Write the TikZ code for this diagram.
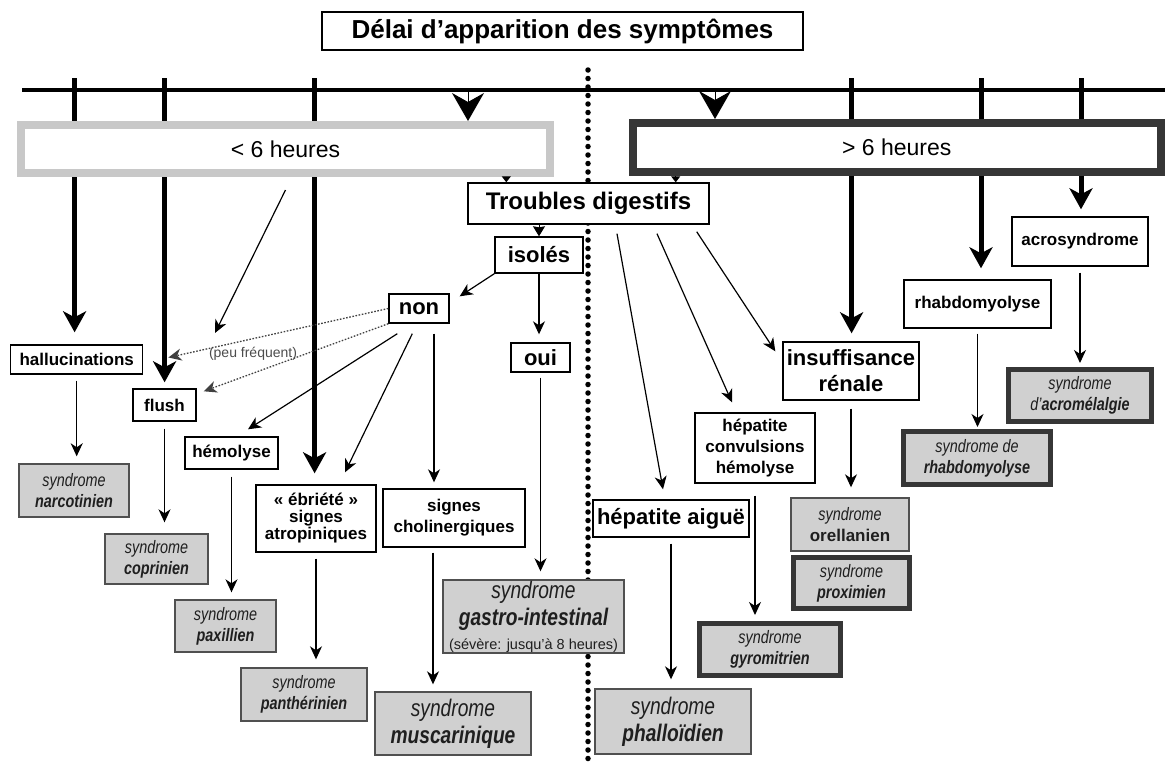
\documentclass[tikz,border=0pt]{standalone}
\usepackage{fontspec}
\setmainfont{Liberation Sans}
\newfontfamily\nar[FakeStretch=0.8]{Liberation Sans}
\usetikzlibrary{arrows.meta}
\pgfdeclarelayer{bg}
\pgfsetlayers{bg,main}
\definecolor{lgray}{HTML}{C8C8C8}
\definecolor{dgray}{HTML}{363636}
\definecolor{sfill}{HTML}{D0D0D0}
\definecolor{sline}{HTML}{505050}
\begin{document}
\begin{tikzpicture}[x=1pt,y=-1pt,
  sz/.style 2 args={minimum width=#1pt, minimum height=#2pt},
  wbox/.style={draw=black, line width=1.4pt, fill=white, inner sep=0pt, align=center, font=\fontsize{17}{21}\selectfont\bfseries},
  big/.style={font=\fontsize{22}{26}\selectfont\bfseries},
  sbox/.style={draw=sline, line width=1.4pt, fill=sfill, inner sep=0pt, align=center, text=black!88, font=\fontsize{18}{21}\selectfont\nar\itshape},
  bigs/.style={font=\fontsize{24}{27}\selectfont\nar\itshape},
  tbox/.style={sbox, draw=dgray, line width=5pt},
  tarr/.style={line width=1.2pt, -{Stealth[length=13pt,width=12pt,inset=4pt]}},
  karr/.style={line width=5pt, -{Stealth[length=21pt,width=23pt,inset=6pt]}},
  dotl/.style={line width=1.3pt, draw=black!75, dash pattern=on 1.6pt off 1.6pt, -{Stealth[length=13pt,width=12pt,inset=4pt]}},
  vhead/.style={line width=1pt, -{Stealth[length=28pt,width=32pt,inset=9pt]}},
  shead/.style={line width=1pt, -{Stealth[length=10pt,width=12pt,inset=1pt]}},
  ]
\useasboundingbox (0,0) rectangle (1165,763);

% title and period boxes
\node[draw, line width=1.4pt, fill=white, inner sep=0pt, sz={481}{38}, font=\fontsize{26}{26}\selectfont\bfseries] (title) at (562.5,31) {Délai d’apparition des symptômes};
\node[draw=lgray, line width=8pt, fill=white, inner sep=0pt, sz={529}{48}, font=\fontsize{23}{23}\selectfont] (lt6) at (285.5,149) {< 6 heures};
\node[draw=dgray, line width=8pt, fill=white, inner sep=0pt, sz={528.5}{49}, font=\fontsize{23}{23}\selectfont] (gt6) at (896.75,147.5) {> 6 heures};

% white boxes
\node[wbox, font=\fontsize{24}{24}\selectfont\bfseries, sz={241}{41}] (trou) at (588.5,203.5) {Troubles digestifs};
\node[wbox, big, sz={88}{36}] (isol) at (539,255) {isolés};
\node[wbox, big, sz={60}{29}] (non) at (419,308.5) {non};
\node[wbox, big, sz={59}{29}] (oui) at (540.5,357.5) {oui};
\node[wbox, sz={132}{29}] (hall) at (76.7,359.5) {hallucinations};
\node[wbox, sz={63}{32}] (flush) at (164.5,405) {flush};
\node[wbox, sz={93}{32}] (hemo) at (231.5,453) {hémolyse};
\node[wbox, font=\fontsize{17}{17}\selectfont\bfseries, sz={120}{67}] (ebri) at (316,518.5) {« ébriété »\\signes\\atropiniques};
\node[wbox, sz={142}{58}] (chol) at (454,518) {signes\\cholinergiques};
\node[wbox, big, sz={156}{37}] (hepa) at (671,518.5) {hépatite aiguë};
\node[wbox, sz={120}{70}] (hepc) at (755,448) {hépatite\\convulsions\\hémolyse};
\node[wbox, big, sz={136}{58}] (insu) at (851,371) {insuffisance\\rénale};
\node[wbox, sz={147}{48}] (rhab) at (977.5,304) {rhabdomyolyse};
\node[wbox, sz={136}{49}] (acro) at (1080,241.5) {acrosyndrome};

% syndrome boxes
\node[sbox, sz={110}{53}] (narc) at (74,490.5) {syndrome\\\bfseries narcotinien};
\node[sbox, sz={103}{50}] (copr) at (156.5,559) {syndrome\\\bfseries coprinien};
\node[sbox, sz={101}{52}] (paxi) at (225.5,626) {syndrome\\\bfseries paxillien};
\node[sbox, sz={126}{53}] (pant) at (304,694.5) {syndrome\\\bfseries panthérinien};
\node[sbox, bigs, sz={156}{63}] (musc) at (453,723.5) {syndrome\\\bfseries muscarinique};
\node[sbox, bigs, sz={181}{73}] (gast) at (533.5,616.5) {syndrome\\\bfseries gastro-intestinal\\[-3pt]{\normalfont\fontsize{14.5}{15}\selectfont (sévère: jusqu’à 8 heures)}};
\node[sbox, sz={118}{53}] (orel) at (850,524.5) {syndrome\\\normalfont\fontsize{17}{21}\selectfont\bfseries orellanien};
\node[tbox, sz={116}{51}] (prox) at (851.5,583) {syndrome\\\bfseries proximien};
\node[tbox, sz={141}{52}] (gyro) at (770,649.5) {syndrome\\\bfseries gyromitrien};
\node[sbox, bigs, sz={156}{65}] (phal) at (673,721.5) {syndrome\\\bfseries phalloïdien};
\node[tbox, sz={147}{53}] (syrh) at (977,458) {syndrome de\\\bfseries rhabdomyolyse};
\node[tbox, sz={143}{52}] (acrm) at (1080,395.5) {syndrome\\d’\textbf{acromélalgie}};

\node[inner sep=0pt, text=black!70, font=\fontsize{14}{14}\selectfont] (pfq) at (253,354) {(peu fréquent)};

% background: timeline, divider, thick arrows
\begin{pgfonlayer}{bg}
\coordinate (tl0) at (22,90);
\coordinate (tl1) at (1165,90);
\draw[line width=4pt] (tl0) -- (tl1);
\coordinate (dv0) at (588,70);
\coordinate (dv1) at (588,765);
\draw[line width=5.5pt, line cap=round, dash pattern=on 0pt off 8.5pt] (dv0) -- (dv1);
\coordinate (k1) at (74.6,78);
\coordinate (k2) at (164.6,78);
\coordinate (k3) at (314.6,78);
\coordinate (k4) at (851.6,78);
\coordinate (k5) at (981,78);
\coordinate (k6) at (1081,78);
\draw[karr, shorten >=12pt] (k1) -- (k1 |- hall.north);
\draw[karr, shorten >=6pt] (k2) -- (k2 |- flush.north);
\draw[karr, shorten >=11pt] (k3) -- (k3 |- ebri.north);
\draw[karr, shorten >=8pt] (k4) -- (k4 |- insu.north);
\draw[karr, shorten >=11pt] (k5) -- (k5 |- rhab.north);
\draw[karr, shorten >=7pt] (k6) -- (k6 |- acro.north);
\end{pgfonlayer}

% heads on the timeline
\coordinate (va) at (468,92);
\coordinate (vb) at (715,92);
\draw[vhead] (va) -- (va |- lt6.north);
\draw[vhead] (vb) -- (vb |- gt6.north);

% short arrows into Troubles digestifs and isolés
\coordinate (tda) at ([xshift=39pt]trou.north west);
\coordinate (tdb) at ([xshift=-34pt]trou.north east);
\draw[line width=1pt, -{Stealth[length=6pt,width=9pt,inset=0pt]}] (tda |- lt6.south) -- (tda);
\draw[line width=1pt, -{Stealth[length=6pt,width=9pt,inset=0pt]}] (tdb |- gt6.south) -- (tdb);
\draw[shead] (isol.north |- trou.south) -- (isol.north);

% left part
\coordinate (pf) at (215,333);
\draw[tarr] ([yshift=-13pt]lt6.south) -- (pf);
\draw[tarr] (isol.south west) -- ([xshift=10pt,yshift=-3pt]non.north east);
\draw[tarr, shorten >=8pt] (isol.south) -- (isol.south |- oui.north);
\draw[tarr, shorten <=5pt, shorten >=8pt] (oui.south) -- (oui.south |- gast.north);
\draw[dotl] (non.west) -- ([xshift=25pt,yshift=2pt]hall.east);
\draw[dotl] (non.south west) -- ([xshift=7pt,yshift=-3pt]flush.north east);
\draw[tarr] ([xshift=9pt,yshift=-10pt]non.south west) -- ([xshift=16.5pt,yshift=7pt]hemo.north);
\draw[tarr] ([xshift=24pt,yshift=-10pt]non.south west) -- ([xshift=29pt,yshift=12pt]ebri.north);
\coordinate (nc) at ([xshift=15pt,yshift=-10pt]non.south);
\draw[tarr, shorten >=6pt] (nc) -- (nc |- chol.north);
\draw[tarr, shorten <=6pt, shorten >=7pt] (hall.south) -- (hall.south |- narc.north);
\draw[tarr, shorten <=7pt, shorten >=11pt] (flush.south) -- (flush.south |- copr.north);
\draw[tarr, shorten <=7pt, shorten >=7pt] (hemo.south) -- (hemo.south |- paxi.north);
\draw[tarr, shorten <=6pt, shorten >=8pt] (ebri.south) -- (ebri.south |- pant.north);
\coordinate (cs) at ([xshift=-21pt]chol.south);
\draw[tarr, shorten <=5pt, shorten >=7pt] (cs) -- (cs |- musc.north);

% right part
\draw[tarr] ([xshift=28.5pt,yshift=-9pt]trou.south) -- ([xshift=-8pt,yshift=10pt]hepa.north);
\draw[tarr] ([xshift=68.5pt,yshift=-9pt]trou.south) -- ([xshift=-23pt,yshift=10pt]hepc.north);
\draw[tarr] ([xshift=-13pt,yshift=-7pt]trou.south east) -- ([xshift=-7pt,yshift=-10pt]insu.north west);
\draw[tarr, shorten <=6pt, shorten >=9pt] (hepa.south) -- (hepa.south |- phal.north);
\draw[tarr, shorten <=12pt, shorten >=6pt] (hepc.south) -- (hepc.south |- gyro.north);
\draw[tarr, shorten <=8pt, shorten >=10pt] (insu.south) -- (insu.south |- orel.north);
\draw[tarr, shorten <=5pt, shorten >=2pt] (rhab.south) -- (rhab.south |- syrh.north);
\draw[tarr, shorten <=6pt, shorten >=4pt] (acro.south) -- (acro.south |- acrm.north);
\end{tikzpicture}
\end{document}
